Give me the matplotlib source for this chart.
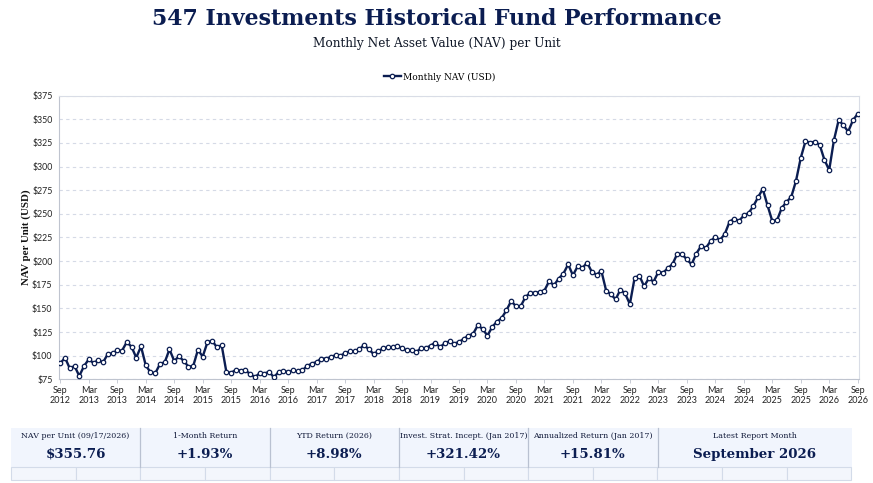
import numpy as np
import pandas as pd
import matplotlib
matplotlib.use('Agg')
import matplotlib.pyplot as plt
from matplotlib.patches import Rectangle

# monthly NAV, Sep 2012 -> Sep 2026
nav = [
    92.0, 97.8, 86.5, 89.0, 78.5, 89.0, 96.2, 92.2, 95.2, 92.8, 101.8, 102.5,     # Sep12-Aug13
    105.6, 105.3, 114.3, 109.5, 97.9, 109.8, 89.8, 82.4, 81.3, 91.2, 93.0, 106.7,  # Sep13-Aug14
    94.4, 99.3, 94.4, 88.4, 89.0, 106.2, 99.0, 114.2, 115.8, 108.8, 111.0, 82.4,   # Sep14-Aug15
    82.0, 84.9, 84.2, 84.5, 80.6, 77.3, 81.3, 81.0, 83.0, 77.1, 82.7, 84.2,        # Sep15-Aug16
    82.4, 84.4, 83.3, 84.4, 89.1, 91.6, 93.3, 96.9, 96.9, 98.3, 100.7, 100.0,      # Sep16-Aug17
    102.5, 104.6, 104.6, 106.7, 111.3, 106.7, 101.8, 104.6, 107.8, 108.8, 108.8, 109.9,  # Sep17-Aug18
    107.8, 105.7, 106.0, 103.9, 107.8, 108.1, 110.5, 113.8, 109.1, 113.0, 115.2, 112.7,  # Sep18-Aug19
    114.5, 117.7, 121.2, 123.3, 132.5, 127.9, 121.2, 130.4, 136.0, 139.9, 148.0, 157.9,  # Sep19-Aug20
    152.2, 152.2, 162.1, 166.3, 166.7, 167.0, 168.8, 179.0, 174.4, 181.5, 186.8, 196.6,  # Sep20-Aug21
    185.0, 194.5, 192.8, 198.4, 188.5, 185.7, 189.6, 168.8, 164.9, 159.6, 169.7, 165.8,  # Sep21-Aug22
    154.5, 182.2, 184.7, 173.4, 181.8, 178.3, 188.5, 187.8, 192.4, 197.0, 207.9, 207.2,  # Sep22-Aug23
    201.9, 196.6, 207.9, 216.0, 213.9, 221.0, 225.6, 222.4, 228.7, 241.6, 245.0, 242.5,  # Sep23-Aug24
    248.3, 250.8, 258.0, 267.5, 276.3, 259.0, 242.5, 243.2, 256.2, 262.6, 267.9, 284.8,  # Sep24-Aug25
    309.1, 326.8, 325.3, 326.45, 322.9, 307.0, 296.4, 328.1, 349.3, 343.7, 337.0, 349.03,  # Sep25-Aug26
    355.76,                                                                        # Sep26
]
months = pd.date_range('2012-09-01', periods=len(nav), freq='MS')

# summary table
stat_labels = ['NAV per Unit (09/17/2026)', '1-Month Return', 'YTD Return (2026)',
               'Invest. Strat. Incept. (Jan 2017)', 'Annualized Return (Jan 2017)',
               'Latest Report Month']
stat_values = ['$355.76', '+1.93%', '+8.98%', '+321.42%', '+15.81%', 'September 2026']

navy = '#0b1d51'
serif = 'DejaVu Serif'
W, H = 873, 483

fig = plt.figure(figsize=(W / 100, H / 100), dpi=100)

# main chart, placed in pixel terms
left, right, top, bottom = 59.5, 859.3, 95.7, 379.3
ax = fig.add_axes([left / W, 1 - bottom / H, (right - left) / W, (bottom - top) / H])

x = np.arange(len(nav))
ax.plot(x, nav, color=navy, lw=1.7, marker='o', ms=3.2, mfc='white',
        mec=navy, mew=0.9, label='Monthly NAV (USD)', zorder=3)

ax.set_xlim(-0.17, len(nav) - 1 + 0.34)
ax.set_ylim(75, 375)
ax.set_yticks(np.arange(75, 376, 25))
ax.set_yticklabels(['$%d' % v for v in np.arange(75, 376, 25)])
tick_pos = x[::6]
ax.set_xticks(tick_pos)
ax.set_xticklabels([months[i].strftime('%b\n%Y') for i in tick_pos])

ax.grid(axis='y', color='#d5dae6', ls=(0, (3, 3)), lw=0.8)
ax.set_axisbelow(True)
for s in ax.spines.values():
    s.set_color('#d9dde6')
    s.set_linewidth(0.8)
ax.spines['left'].set_color('#bfc4cf')
ax.spines['bottom'].set_color('#bfc4cf')
ax.tick_params(axis='y', length=0, pad=5, labelsize=6.3, labelcolor='#222222')
ax.tick_params(axis='x', length=3, width=0.6, color='#bfc4cf', pad=2,
               labelsize=6.5, labelcolor='#222222')
for lab in ax.get_xticklabels() + ax.get_yticklabels():
    lab.set_fontfamily('Lato')
    lab.set_linespacing(1.1)

ax.set_ylabel('NAV per Unit (USD)', fontsize=7.8, fontweight='bold',
              family='Liberation Serif', color='#111111', labelpad=1)

fig.legend(loc='center', bbox_to_anchor=(440 / W, 1 - 77 / H), frameon=False,
           prop={'family': serif, 'size': 6.5}, handlelength=1.8, handletextpad=0.3)

fig.text(0.5, 1 - 19 / H, '547 Investments Historical Fund Performance', ha='center',
         va='center', fontsize=15.8, fontweight='bold', family=serif, color=navy)
fig.text(0.5, 1 - 43 / H, 'Monthly Net Asset Value (NAV) per Unit', ha='center',
         va='center', fontsize=8.7, family=serif, color='#101828')

# bottom table drawn on an overlay in pixel coords
tab = fig.add_axes([0, 0, 1, 1], zorder=-1)
tab.set_xlim(0, W)
tab.set_ylim(H, 0)
tab.axis('off')

t0, t1, t2 = 427.7, 466.7, 480.0
col_x = [11 + 129.3 * k for k in range(6)] + [851.7]
tab.add_patch(Rectangle((col_x[0], t0), col_x[-1] - col_x[0], t1 - t0,
                        facecolor='#f1f5fd', edgecolor='none'))
for i in range(1, 6):
    tab.plot([col_x[i], col_x[i]], [t0, t1], color='#b9c1d1', lw=0.9)
sub_w = 129.3 / 2
xs = col_x[0]
while xs < col_x[-1] - 1:
    w = min(sub_w, col_x[-1] - xs)
    tab.add_patch(Rectangle((xs, t1), w, t2 - t1, facecolor='#f3f6fc',
                            edgecolor='#d3dbe9', lw=0.8))
    xs += sub_w
for i in range(6):
    cx = (col_x[i] + col_x[i + 1]) / 2
    tab.text(cx, 435.5, stat_labels[i], ha='center', va='center', fontsize=5.7,
             family=serif, color='#111a3a')
    tab.text(cx, 454.3, stat_values[i], ha='center', va='center', fontsize=9.6,
             fontweight='bold', family=serif, color=navy)

fig.savefig('out.png', dpi=100)
